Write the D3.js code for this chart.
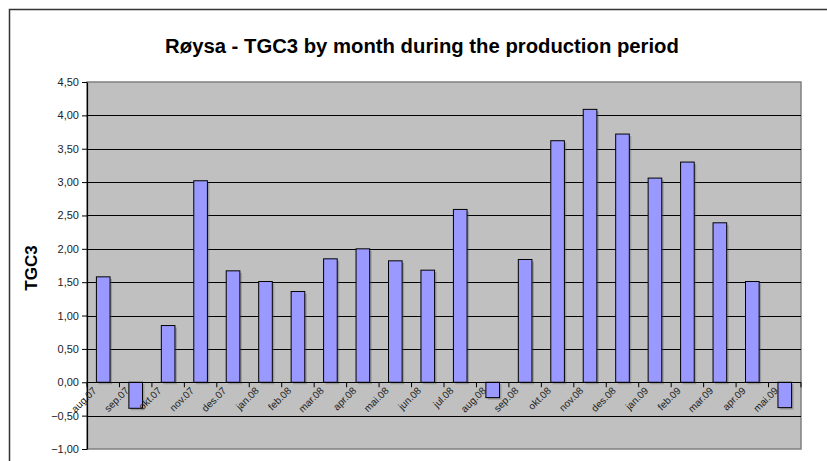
<!DOCTYPE html>
<html>
<head>
<meta charset="utf-8">
<script src="https://cdn.jsdelivr.net/npm/d3@7/dist/d3.min.js"></script>
<style>
  body { margin: 0; background: #fff; }
  svg { display: block; font-family: Arial, "Liberation Sans", sans-serif; }
</style>
</head>
<body>
<svg id="chart" width="827" height="461"></svg>
<script>
const months = ["aug.07", "sep.07", "okt.07", "nov.07", "des.07", "jan.08", "feb.08", "mar.08",
  "apr.08", "mai.08", "jun.08", "jul.08", "aug.08", "sep.08", "okt.08", "nov.08", "des.08",
  "jan.09", "feb.09", "mar.09", "apr.09", "mai.09"];
const tgc3 = [1.58, -0.39, 0.85, 3.02, 1.67, 1.51, 1.36, 1.85, 2.00, 1.82, 1.68, 2.59,
  -0.23, 1.84, 3.62, 4.09, 3.72, 3.06, 3.30, 2.39, 1.51, -0.38];
const yTicks = [-1, -0.5, 0, 0.5, 1, 1.5, 2, 2.5, 3, 3.5, 4, 4.5];

const svg = d3.select("#chart");
const plot = { left: 87, right: 801, top: 82, bottom: 449 };

// outer chart frame
svg.append("rect")
  .attr("x", 9.5).attr("y", 9.5)
  .attr("width", 900).attr("height", 500)
  .attr("fill", "#fff").attr("stroke", "#333").attr("stroke-width", 1.5);

const x = d3.scaleBand()
  .domain(months)
  .range([plot.left, plot.right])
  .paddingInner(0.58)
  .paddingOuter(0.29);

const y = d3.scaleLinear()
  .domain([-1, 4.5])
  .range([plot.bottom, plot.top]);

// plot background
svg.append("rect")
  .attr("x", plot.left).attr("y", plot.top)
  .attr("width", plot.right - plot.left).attr("height", plot.bottom - plot.top)
  .attr("fill", "#c0c0c0").attr("stroke", "#808080").attr("stroke-width", 1.5);

// gridlines
svg.append("g")
  .selectAll("line")
  .data(yTicks.filter(d => d > -1 && d < 4.5))
  .join("line")
  .attr("x1", plot.left).attr("x2", plot.right)
  .attr("y1", d => Math.round(y(d)) + 0.5).attr("y2", d => Math.round(y(d)) + 0.5)
  .attr("stroke", "#000").attr("stroke-width", 1);

// bar shadows
svg.append("g")
  .selectAll("rect")
  .data(tgc3)
  .join("rect")
  .attr("x", (d, i) => x(months[i]) + 2)
  .attr("y", d => Math.min(y(d), y(0)) + 2)
  .attr("width", x.bandwidth())
  .attr("height", d => Math.abs(y(d) - y(0)))
  .attr("fill", "#555").attr("opacity", 0.35);

// bars
svg.append("g")
  .selectAll("rect")
  .data(tgc3)
  .join("rect")
  .attr("x", (d, i) => x(months[i]))
  .attr("y", d => Math.min(y(d), y(0)))
  .attr("width", x.bandwidth())
  .attr("height", d => Math.abs(y(d) - y(0)))
  .attr("fill", "#9999ff").attr("stroke", "#000").attr("stroke-width", 1);

// y axis
const fmt = d3.format(".2f");
const yAxis = svg.append("g")
  .attr("transform", `translate(${plot.left},0)`)
  .call(d3.axisLeft(y).tickValues(yTicks).tickSize(5).tickSizeOuter(0)
    .tickFormat(d => fmt(d).replace(".", ",")));
yAxis.select(".domain").attr("stroke", "#000").attr("stroke-width", 1.2);
yAxis.selectAll(".tick line").attr("stroke", "#000");
yAxis.selectAll(".tick text")
  .attr("x", -8)
  .attr("font-family", "Arial, 'Liberation Sans', sans-serif")
  .attr("font-size", 11).attr("fill", "#222");

// x axis along zero line, ticks at category boundaries
const step = x.step();
const boundaries = d3.range(months.length + 1).map(i => plot.left + i * step);
const xAxis = svg.append("g");
xAxis.append("line")
  .attr("x1", plot.left).attr("x2", plot.right)
  .attr("y1", Math.round(y(0)) + 0.5).attr("y2", Math.round(y(0)) + 0.5)
  .attr("stroke", "#000").attr("stroke-width", 1.2);
xAxis.selectAll("line.tick")
  .data(boundaries)
  .join("line")
  .attr("class", "tick")
  .attr("x1", d => d).attr("x2", d => d)
  .attr("y1", y(0)).attr("y2", y(0) + 5)
  .attr("stroke", "#000");

// month labels, slanted 45 degrees
const c = Math.SQRT1_2;
xAxis.selectAll("text")
  .data(months)
  .join("text")
  .attr("transform", d => {
    const tx = x(d) + x.bandwidth() / 2 - 6, ty = y(0) + 9;
    return "matrix(" + c + "," + (-c) + "," + c + "," + c + "," + tx + "," + ty + ")";
  })
  .attr("text-anchor", "end")
  .attr("font-size", 10).attr("fill", "#222")
  .text(d => d);

// titles
svg.append("text")
  .attr("x", 422).attr("y", 53)
  .attr("text-anchor", "middle")
  .attr("font-size", 20.3).attr("font-weight", "bold")
  .text("Røysa - TGC3 by month during the production period");

svg.append("text")
  .attr("transform", "translate(37,268) rotate(-90)")
  .attr("text-anchor", "middle")
  .attr("font-size", 17).attr("font-weight", "bold")
  .text("TGC3");
</script>
</body>
</html>
